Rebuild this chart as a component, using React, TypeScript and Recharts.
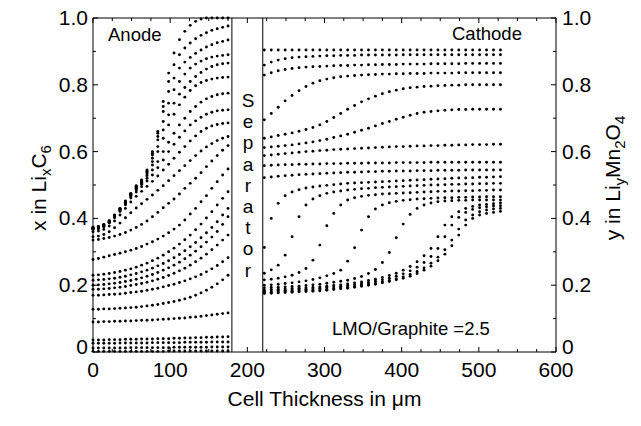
import { ScatterChart, Scatter, XAxis, YAxis, ReferenceLine } from "recharts";

const W = 641;
const H = 426;
// outer margins; each axis takes 1px more, so the plot box is 93..556 x 18..352
const M = { top: 17, right: 84, bottom: 73, left: 92 };
const PLOT_TOP = M.top + 1;
const PLOT_BOTTOM = H - M.bottom - 1;
const PLOT_LEFT = M.left + 1;
const PLOT_RIGHT = W - M.right - 1;
const FONT = "'Liberation Sans', Arial, Helvetica, sans-serif";

// x positions (um) of the simulated nodes
const anodeX = [0, 7, 14, 21, 28, 35, 42, 49, 56, 63, 70, 77, 84, 91, 98, 105, 112, 119, 126, 133, 140, 147, 154, 161, 168, 175];
const cathodeX = [222, 231, 240, 249, 258, 267, 276, 285, 294, 303, 312, 321, 330, 339, 348, 357, 366, 375, 384, 393, 402, 411, 420, 429, 438, 447, 456, 465, 474, 483, 492, 501, 510, 519, 528];

// x in LixC6, one profile per time step
const anodeProfiles = [
  [0.374, 0.376, 0.382, 0.393, 0.41, 0.43, 0.452, 0.475, 0.498, 0.515, 0.545, 0.6, 0.66, 0.75, 0.835, 0.895, 0.935, 0.96, 0.978, 0.99, 0.997, 1, 1, 1, 1, 1],
  [0.373, 0.375, 0.381, 0.392, 0.409, 0.429, 0.45, 0.473, 0.496, 0.513, 0.542, 0.595, 0.655, 0.735, 0.81, 0.86, 0.89, 0.91, 0.925, 0.938, 0.948, 0.956, 0.963, 0.968, 0.972, 0.976],
  [0.372, 0.374, 0.38, 0.391, 0.408, 0.428, 0.449, 0.472, 0.494, 0.511, 0.54, 0.59, 0.645, 0.72, 0.78, 0.82, 0.85, 0.868, 0.882, 0.894, 0.904, 0.913, 0.92, 0.926, 0.93, 0.934],
  [0.371, 0.373, 0.379, 0.39, 0.407, 0.427, 0.448, 0.47, 0.492, 0.51, 0.537, 0.58, 0.635, 0.69, 0.745, 0.785, 0.81, 0.832, 0.85, 0.862, 0.871, 0.878, 0.883, 0.886, 0.888, 0.89],
  [0.37, 0.372, 0.378, 0.389, 0.406, 0.426, 0.447, 0.469, 0.49, 0.508, 0.533, 0.57, 0.615, 0.665, 0.71, 0.745, 0.772, 0.792, 0.81, 0.825, 0.837, 0.847, 0.855, 0.86, 0.863, 0.865],
  [0.369, 0.371, 0.377, 0.388, 0.405, 0.425, 0.446, 0.467, 0.488, 0.505, 0.528, 0.56, 0.6, 0.64, 0.68, 0.712, 0.74, 0.763, 0.783, 0.797, 0.807, 0.813, 0.817, 0.82, 0.822, 0.823],
  [0.368, 0.37, 0.376, 0.387, 0.404, 0.423, 0.444, 0.465, 0.485, 0.502, 0.52, 0.545, 0.57, 0.6, 0.628, 0.655, 0.68, 0.7, 0.72, 0.735, 0.748, 0.758, 0.765, 0.77, 0.773, 0.775],
  [0.367, 0.369, 0.375, 0.386, 0.402, 0.421, 0.441, 0.461, 0.479, 0.495, 0.512, 0.53, 0.552, 0.575, 0.6, 0.622, 0.643, 0.662, 0.68, 0.692, 0.703, 0.712, 0.718, 0.722, 0.724, 0.725],
  [0.36, 0.362, 0.367, 0.377, 0.392, 0.41, 0.43, 0.449, 0.466, 0.481, 0.496, 0.511, 0.527, 0.545, 0.562, 0.58, 0.598, 0.615, 0.632, 0.647, 0.66, 0.67, 0.677, 0.681, 0.684, 0.686],
  [0.345, 0.347, 0.352, 0.36, 0.372, 0.386, 0.402, 0.417, 0.431, 0.444, 0.457, 0.47, 0.484, 0.498, 0.513, 0.528, 0.543, 0.558, 0.573, 0.588, 0.602, 0.614, 0.624, 0.633, 0.64, 0.645],
  [0.335, 0.337, 0.34, 0.343, 0.347, 0.352, 0.358, 0.365, 0.373, 0.382, 0.392, 0.405, 0.418, 0.432, 0.445, 0.458, 0.473, 0.49, 0.505, 0.52, 0.537, 0.555, 0.572, 0.588, 0.604, 0.618],
  [0.277, 0.28, 0.284, 0.288, 0.292, 0.296, 0.3, 0.305, 0.31, 0.316, 0.323, 0.33, 0.338, 0.347, 0.357, 0.368, 0.38, 0.395, 0.413, 0.43, 0.45, 0.468, 0.49, 0.51, 0.53, 0.548],
  [0.23, 0.231, 0.233, 0.235, 0.238, 0.241, 0.245, 0.249, 0.254, 0.26, 0.266, 0.273, 0.281, 0.29, 0.3, 0.311, 0.323, 0.336, 0.35, 0.366, 0.383, 0.401, 0.42, 0.44, 0.46, 0.48],
  [0.215, 0.216, 0.217, 0.219, 0.221, 0.224, 0.227, 0.231, 0.235, 0.24, 0.245, 0.251, 0.258, 0.265, 0.273, 0.282, 0.292, 0.303, 0.315, 0.328, 0.342, 0.357, 0.373, 0.39, 0.41, 0.43],
  [0.2, 0.201, 0.202, 0.204, 0.206, 0.208, 0.211, 0.214, 0.218, 0.222, 0.227, 0.232, 0.238, 0.245, 0.252, 0.26, 0.269, 0.279, 0.29, 0.302, 0.315, 0.329, 0.344, 0.361, 0.382, 0.405],
  [0.188, 0.188, 0.189, 0.19, 0.192, 0.194, 0.196, 0.199, 0.202, 0.205, 0.209, 0.213, 0.218, 0.223, 0.229, 0.236, 0.243, 0.251, 0.26, 0.27, 0.281, 0.293, 0.306, 0.32, 0.335, 0.35],
  [0.17, 0.17, 0.171, 0.172, 0.173, 0.174, 0.176, 0.178, 0.18, 0.182, 0.185, 0.188, 0.191, 0.195, 0.199, 0.203, 0.208, 0.213, 0.219, 0.225, 0.232, 0.24, 0.249, 0.259, 0.27, 0.282],
  [0.128, 0.128, 0.129, 0.129, 0.13, 0.131, 0.132, 0.133, 0.134, 0.136, 0.138, 0.14, 0.142, 0.145, 0.148, 0.151, 0.155, 0.159, 0.164, 0.17, 0.177, 0.185, 0.194, 0.204, 0.216, 0.23],
  [0.09, 0.09, 0.091, 0.091, 0.092, 0.092, 0.093, 0.093, 0.094, 0.095, 0.095, 0.096, 0.097, 0.098, 0.099, 0.1, 0.101, 0.102, 0.104, 0.105, 0.107, 0.109, 0.111, 0.113, 0.115, 0.117],
  [0.036, 0.036, 0.036, 0.037, 0.037, 0.037, 0.038, 0.038, 0.038, 0.039, 0.039, 0.039, 0.04, 0.04, 0.04, 0.041, 0.041, 0.042, 0.042, 0.043, 0.043, 0.044, 0.044, 0.045, 0.045, 0.046],
  [0.026, 0.026, 0.026, 0.026, 0.026, 0.027, 0.027, 0.027, 0.027, 0.027, 0.027, 0.028, 0.028, 0.028, 0.028, 0.028, 0.028, 0.029, 0.029, 0.029, 0.029, 0.029, 0.03, 0.03, 0.03, 0.03],
  [0.012, 0.012, 0.012, 0.012, 0.012, 0.012, 0.012, 0.013, 0.013, 0.013, 0.013, 0.013, 0.013, 0.013, 0.013, 0.014, 0.014, 0.014, 0.014, 0.014, 0.014, 0.014, 0.015, 0.015, 0.015, 0.015],
  [0.002, 0.002, 0.002, 0.002, 0.002, 0.002, 0.002, 0.002, 0.002, 0.002, 0.002, 0.002, 0.002, 0.002, 0.003, 0.003, 0.003, 0.003, 0.003, 0.003, 0.003, 0.003, 0.003, 0.003, 0.003, 0.003],
];

// y in LiyMn2O4, one profile per time step
const cathodeProfiles = [
  [0.904, 0.904, 0.904, 0.904, 0.904, 0.904, 0.904, 0.904, 0.904, 0.904, 0.904, 0.904, 0.904, 0.904, 0.904, 0.904, 0.904, 0.904, 0.904, 0.904, 0.904, 0.904, 0.904, 0.904, 0.904, 0.904, 0.904, 0.904, 0.904, 0.904, 0.904, 0.904, 0.904, 0.904, 0.904],
  [0.859, 0.868, 0.874, 0.878, 0.881, 0.883, 0.884, 0.885, 0.886, 0.887, 0.887, 0.888, 0.888, 0.888, 0.889, 0.889, 0.889, 0.889, 0.889, 0.889, 0.89, 0.89, 0.89, 0.89, 0.89, 0.89, 0.89, 0.89, 0.89, 0.89, 0.89, 0.89, 0.89, 0.89, 0.89],
  [0.829, 0.836, 0.842, 0.846, 0.849, 0.851, 0.853, 0.854, 0.855, 0.856, 0.857, 0.858, 0.858, 0.859, 0.859, 0.86, 0.86, 0.861, 0.861, 0.861, 0.862, 0.862, 0.862, 0.862, 0.863, 0.863, 0.863, 0.863, 0.863, 0.864, 0.864, 0.864, 0.864, 0.864, 0.864],
  [0.695, 0.714, 0.733, 0.752, 0.768, 0.782, 0.795, 0.805, 0.812, 0.817, 0.821, 0.824, 0.826, 0.828, 0.829, 0.83, 0.831, 0.832, 0.832, 0.833, 0.833, 0.834, 0.834, 0.834, 0.835, 0.835, 0.835, 0.835, 0.836, 0.836, 0.836, 0.836, 0.836, 0.836, 0.836],
  [0.64, 0.644, 0.648, 0.652, 0.656, 0.661, 0.666, 0.672, 0.68, 0.69, 0.702, 0.714, 0.727, 0.738, 0.749, 0.758, 0.766, 0.773, 0.779, 0.784, 0.788, 0.791, 0.793, 0.795, 0.796, 0.797, 0.798, 0.799, 0.799, 0.8, 0.8, 0.8, 0.8, 0.8, 0.8],
  [0.612, 0.614, 0.616, 0.618, 0.62, 0.623, 0.626, 0.629, 0.633, 0.637, 0.642, 0.647, 0.652, 0.658, 0.664, 0.67, 0.677, 0.684, 0.69, 0.697, 0.703, 0.709, 0.714, 0.718, 0.72, 0.722, 0.724, 0.725, 0.726, 0.726, 0.727, 0.727, 0.727, 0.727, 0.727],
  [0.588, 0.59, 0.592, 0.594, 0.596, 0.598, 0.6, 0.601, 0.603, 0.604, 0.606, 0.607, 0.608, 0.609, 0.61, 0.611, 0.612, 0.613, 0.614, 0.615, 0.615, 0.616, 0.617, 0.617, 0.618, 0.618, 0.619, 0.619, 0.62, 0.62, 0.621, 0.621, 0.621, 0.622, 0.622],
  [0.558, 0.559, 0.56, 0.561, 0.561, 0.562, 0.562, 0.563, 0.563, 0.564, 0.564, 0.564, 0.565, 0.565, 0.565, 0.566, 0.566, 0.566, 0.566, 0.567, 0.567, 0.567, 0.567, 0.567, 0.568, 0.568, 0.568, 0.568, 0.568, 0.568, 0.568, 0.568, 0.568, 0.568, 0.568],
  [0.522, 0.524, 0.526, 0.528, 0.529, 0.531, 0.532, 0.533, 0.534, 0.535, 0.536, 0.537, 0.538, 0.538, 0.539, 0.54, 0.54, 0.541, 0.541, 0.542, 0.542, 0.542, 0.543, 0.543, 0.543, 0.544, 0.544, 0.544, 0.544, 0.545, 0.545, 0.545, 0.545, 0.545, 0.545],
  [0.313, 0.4, 0.445, 0.468, 0.479, 0.486, 0.491, 0.494, 0.497, 0.499, 0.501, 0.503, 0.505, 0.506, 0.507, 0.508, 0.509, 0.51, 0.511, 0.512, 0.513, 0.514, 0.515, 0.516, 0.517, 0.518, 0.519, 0.52, 0.521, 0.521, 0.522, 0.523, 0.523, 0.524, 0.525],
  [0.236, 0.246, 0.26, 0.29, 0.345, 0.405, 0.44, 0.458, 0.468, 0.475, 0.479, 0.482, 0.485, 0.487, 0.489, 0.49, 0.492, 0.493, 0.494, 0.495, 0.496, 0.497, 0.498, 0.499, 0.5, 0.5, 0.501, 0.502, 0.502, 0.503, 0.503, 0.504, 0.504, 0.505, 0.505],
  [0.216, 0.218, 0.221, 0.225, 0.23, 0.238, 0.25, 0.275, 0.32, 0.378, 0.415, 0.44, 0.455, 0.462, 0.466, 0.469, 0.471, 0.473, 0.474, 0.475, 0.476, 0.477, 0.478, 0.479, 0.48, 0.481, 0.481, 0.482, 0.482, 0.483, 0.483, 0.484, 0.484, 0.485, 0.485],
  [0.2, 0.201, 0.203, 0.205, 0.207, 0.21, 0.213, 0.217, 0.222, 0.228, 0.235, 0.245, 0.272, 0.312, 0.365, 0.405, 0.428, 0.44, 0.447, 0.451, 0.454, 0.456, 0.458, 0.459, 0.46, 0.461, 0.462, 0.462, 0.463, 0.463, 0.464, 0.464, 0.465, 0.465, 0.465],
  [0.192, 0.193, 0.194, 0.195, 0.196, 0.197, 0.199, 0.201, 0.203, 0.206, 0.209, 0.212, 0.215, 0.22, 0.226, 0.235, 0.247, 0.268, 0.298, 0.342, 0.383, 0.412, 0.43, 0.44, 0.446, 0.45, 0.452, 0.453, 0.454, 0.454, 0.455, 0.455, 0.455, 0.455, 0.455],
  [0.186, 0.187, 0.188, 0.189, 0.19, 0.191, 0.192, 0.193, 0.195, 0.197, 0.199, 0.201, 0.204, 0.207, 0.21, 0.214, 0.218, 0.223, 0.229, 0.236, 0.245, 0.256, 0.27, 0.288, 0.31, 0.345, 0.38, 0.405, 0.42, 0.43, 0.436, 0.44, 0.442, 0.444, 0.446],
  [0.182, 0.183, 0.184, 0.185, 0.186, 0.187, 0.188, 0.189, 0.191, 0.193, 0.195, 0.197, 0.199, 0.202, 0.205, 0.208, 0.212, 0.216, 0.221, 0.227, 0.234, 0.243, 0.254, 0.268, 0.286, 0.31, 0.345, 0.38, 0.403, 0.418, 0.427, 0.432, 0.435, 0.437, 0.438],
  [0.178, 0.179, 0.18, 0.181, 0.182, 0.183, 0.184, 0.185, 0.186, 0.188, 0.19, 0.192, 0.194, 0.197, 0.2, 0.203, 0.206, 0.21, 0.214, 0.219, 0.225, 0.232, 0.241, 0.252, 0.266, 0.284, 0.306, 0.335, 0.368, 0.395, 0.41, 0.42, 0.425, 0.428, 0.43],
  [0.175, 0.176, 0.177, 0.178, 0.179, 0.18, 0.181, 0.182, 0.183, 0.185, 0.187, 0.189, 0.191, 0.194, 0.197, 0.2, 0.203, 0.207, 0.211, 0.216, 0.221, 0.227, 0.235, 0.245, 0.257, 0.273, 0.293, 0.318, 0.35, 0.38, 0.4, 0.41, 0.415, 0.418, 0.421],
];

const xTicks = [0, 25, 50, 75, 100, 125, 150, 175, 200, 225, 250, 275, 300, 325, 350, 375, 400, 425, 450, 475, 500, 525, 550, 575, 600];
const yTicks = [0, 0.1, 0.2, 0.3, 0.4, 0.5, 0.6, 0.7, 0.8, 0.9, 1.0];
const separatorEdges = [180, 220];
const separatorLetters = ["S", "e", "p", "a", "r", "a", "t", "o", "r"];

const toPoints = (xs: number[], ys: number[]) => xs.map((x, i) => ({ x, y: ys[i] }));

const Dot = (p: any) => <circle cx={p.cx} cy={p.cy} r={1.45} fill="#000" />;

const isMajorY = (v: number) => Math.round(v * 10) % 2 === 0;
const yLabel = (v: number) => (v === 0 ? "0" : v.toFixed(1));
// the "0" labels sit a little higher so they clear the x labels below
const yBase = (v: number) => (v === 0 ? 2 : 7);

function BottomTick({ x, payload }: any) {
  const major = payload.value % 100 === 0;
  return (
    <g>
      <line x1={x} x2={x} y1={PLOT_BOTTOM} y2={PLOT_BOTTOM - (major ? 5 : 3)} stroke="#000" />
      {major && (
        <text x={x} y={PLOT_BOTTOM + 25} textAnchor="middle" fontSize={21} fontFamily={FONT} fill="#000">
          {payload.value}
        </text>
      )}
    </g>
  );
}

function TopTick({ x, payload }: any) {
  const major = payload.value % 100 === 0;
  return <line x1={x} x2={x} y1={PLOT_TOP} y2={PLOT_TOP + (major ? 5 : 3)} stroke="#000" />;
}

function LeftTick({ y, payload }: any) {
  const major = isMajorY(payload.value);
  return (
    <g>
      <line x1={PLOT_LEFT} x2={PLOT_LEFT + (major ? 5 : 3)} y1={y} y2={y} stroke="#000" />
      {major && (
        <text x={PLOT_LEFT - 5} y={y + yBase(payload.value)} textAnchor="end" fontSize={21} fontFamily={FONT} fill="#000">
          {yLabel(payload.value)}
        </text>
      )}
    </g>
  );
}

function RightTick({ y, payload }: any) {
  const major = isMajorY(payload.value);
  return (
    <g>
      <line x1={PLOT_RIGHT} x2={PLOT_RIGHT - (major ? 5 : 3)} y1={y} y2={y} stroke="#000" />
      {major && (
        <text x={PLOT_RIGHT + 6} y={y + yBase(payload.value)} textAnchor="start" fontSize={21} fontFamily={FONT} fill="#000">
          {yLabel(payload.value)}
        </text>
      )}
    </g>
  );
}

export default function App() {
  return (
    <div style={{ position: "absolute", left: 0, top: 0, width: W, height: H, background: "#fff" }}>
      <ScatterChart width={W} height={H} margin={M}>
        <XAxis
          type="number"
          dataKey="x"
          domain={[0, 600]}
          ticks={xTicks}
          interval={0}
          height={1}
          tickSize={0}
          tickLine={false}
          axisLine={{ stroke: "#000" }}
          tick={(p: any) => <BottomTick {...p} />}
        />
        <XAxis
          xAxisId="top"
          orientation="top"
          type="number"
          dataKey="x"
          domain={[0, 600]}
          ticks={xTicks}
          interval={0}
          height={1}
          tickSize={0}
          tickLine={false}
          axisLine={{ stroke: "#000" }}
          tick={(p: any) => <TopTick {...p} />}
        />
        <YAxis
          type="number"
          dataKey="y"
          domain={[0, 1]}
          ticks={yTicks}
          interval={0}
          width={1}
          tickSize={0}
          tickLine={false}
          axisLine={{ stroke: "#000" }}
          tick={(p: any) => <LeftTick {...p} />}
        />
        <YAxis
          yAxisId="right"
          orientation="right"
          type="number"
          dataKey="y"
          domain={[0, 1]}
          ticks={yTicks}
          interval={0}
          width={1}
          tickSize={0}
          tickLine={false}
          axisLine={{ stroke: "#000" }}
          tick={(p: any) => <RightTick {...p} />}
        />
        {separatorEdges.map((e) => (
          <ReferenceLine key={e} x={e} stroke="#000" strokeWidth={1} ifOverflow="visible" />
        ))}
        {anodeProfiles.map((ys, i) => (
          <Scatter key={`a${i}`} data={toPoints(anodeX, ys)} shape={Dot} isAnimationActive={false} />
        ))}
        {cathodeProfiles.map((ys, i) => (
          <Scatter
            key={`c${i}`}
            xAxisId="top"
            yAxisId="right"
            data={toPoints(cathodeX, ys)}
            shape={Dot}
            isAnimationActive={false}
          />
        ))}
      </ScatterChart>
      <svg
        width={W}
        height={H}
        style={{ position: "absolute", left: 0, top: 0, pointerEvents: "none" }}
        fontFamily={FONT}
        fill="#000"
      >
        <text x={108} y={41} fontSize={18.5}>Anode</text>
        <text x={452} y={40} fontSize={18.5}>Cathode</text>
        {separatorLetters.map((ch, i) => (
          <text key={i} x={248} y={107 + i * 21.2} fontSize={19} textAnchor="middle">
            {ch}
          </text>
        ))}
        <text x={332} y={335} fontSize={18.5}>LMO/Graphite =2.5</text>
        <text x={(PLOT_LEFT + PLOT_RIGHT) / 2} y={406} fontSize={21} textAnchor="middle">
          Cell Thickness in {"\u03BC"}m
        </text>
        <text transform="translate(46,188) rotate(-90)" fontSize={21} textAnchor="middle">
          x in Li<tspan dy={5} fontSize={15}>x</tspan>
          <tspan dy={-5}>C</tspan>
          <tspan dy={5} fontSize={15}>6</tspan>
        </text>
        <text transform="translate(620,178) rotate(-90)" fontSize={21} textAnchor="middle">
          y in Li<tspan dy={5} fontSize={15}>y</tspan>
          <tspan dy={-5}>Mn</tspan>
          <tspan dy={5} fontSize={15}>2</tspan>
          <tspan dy={-5}>O</tspan>
          <tspan dy={5} fontSize={15}>4</tspan>
        </text>
      </svg>
    </div>
  );
}
